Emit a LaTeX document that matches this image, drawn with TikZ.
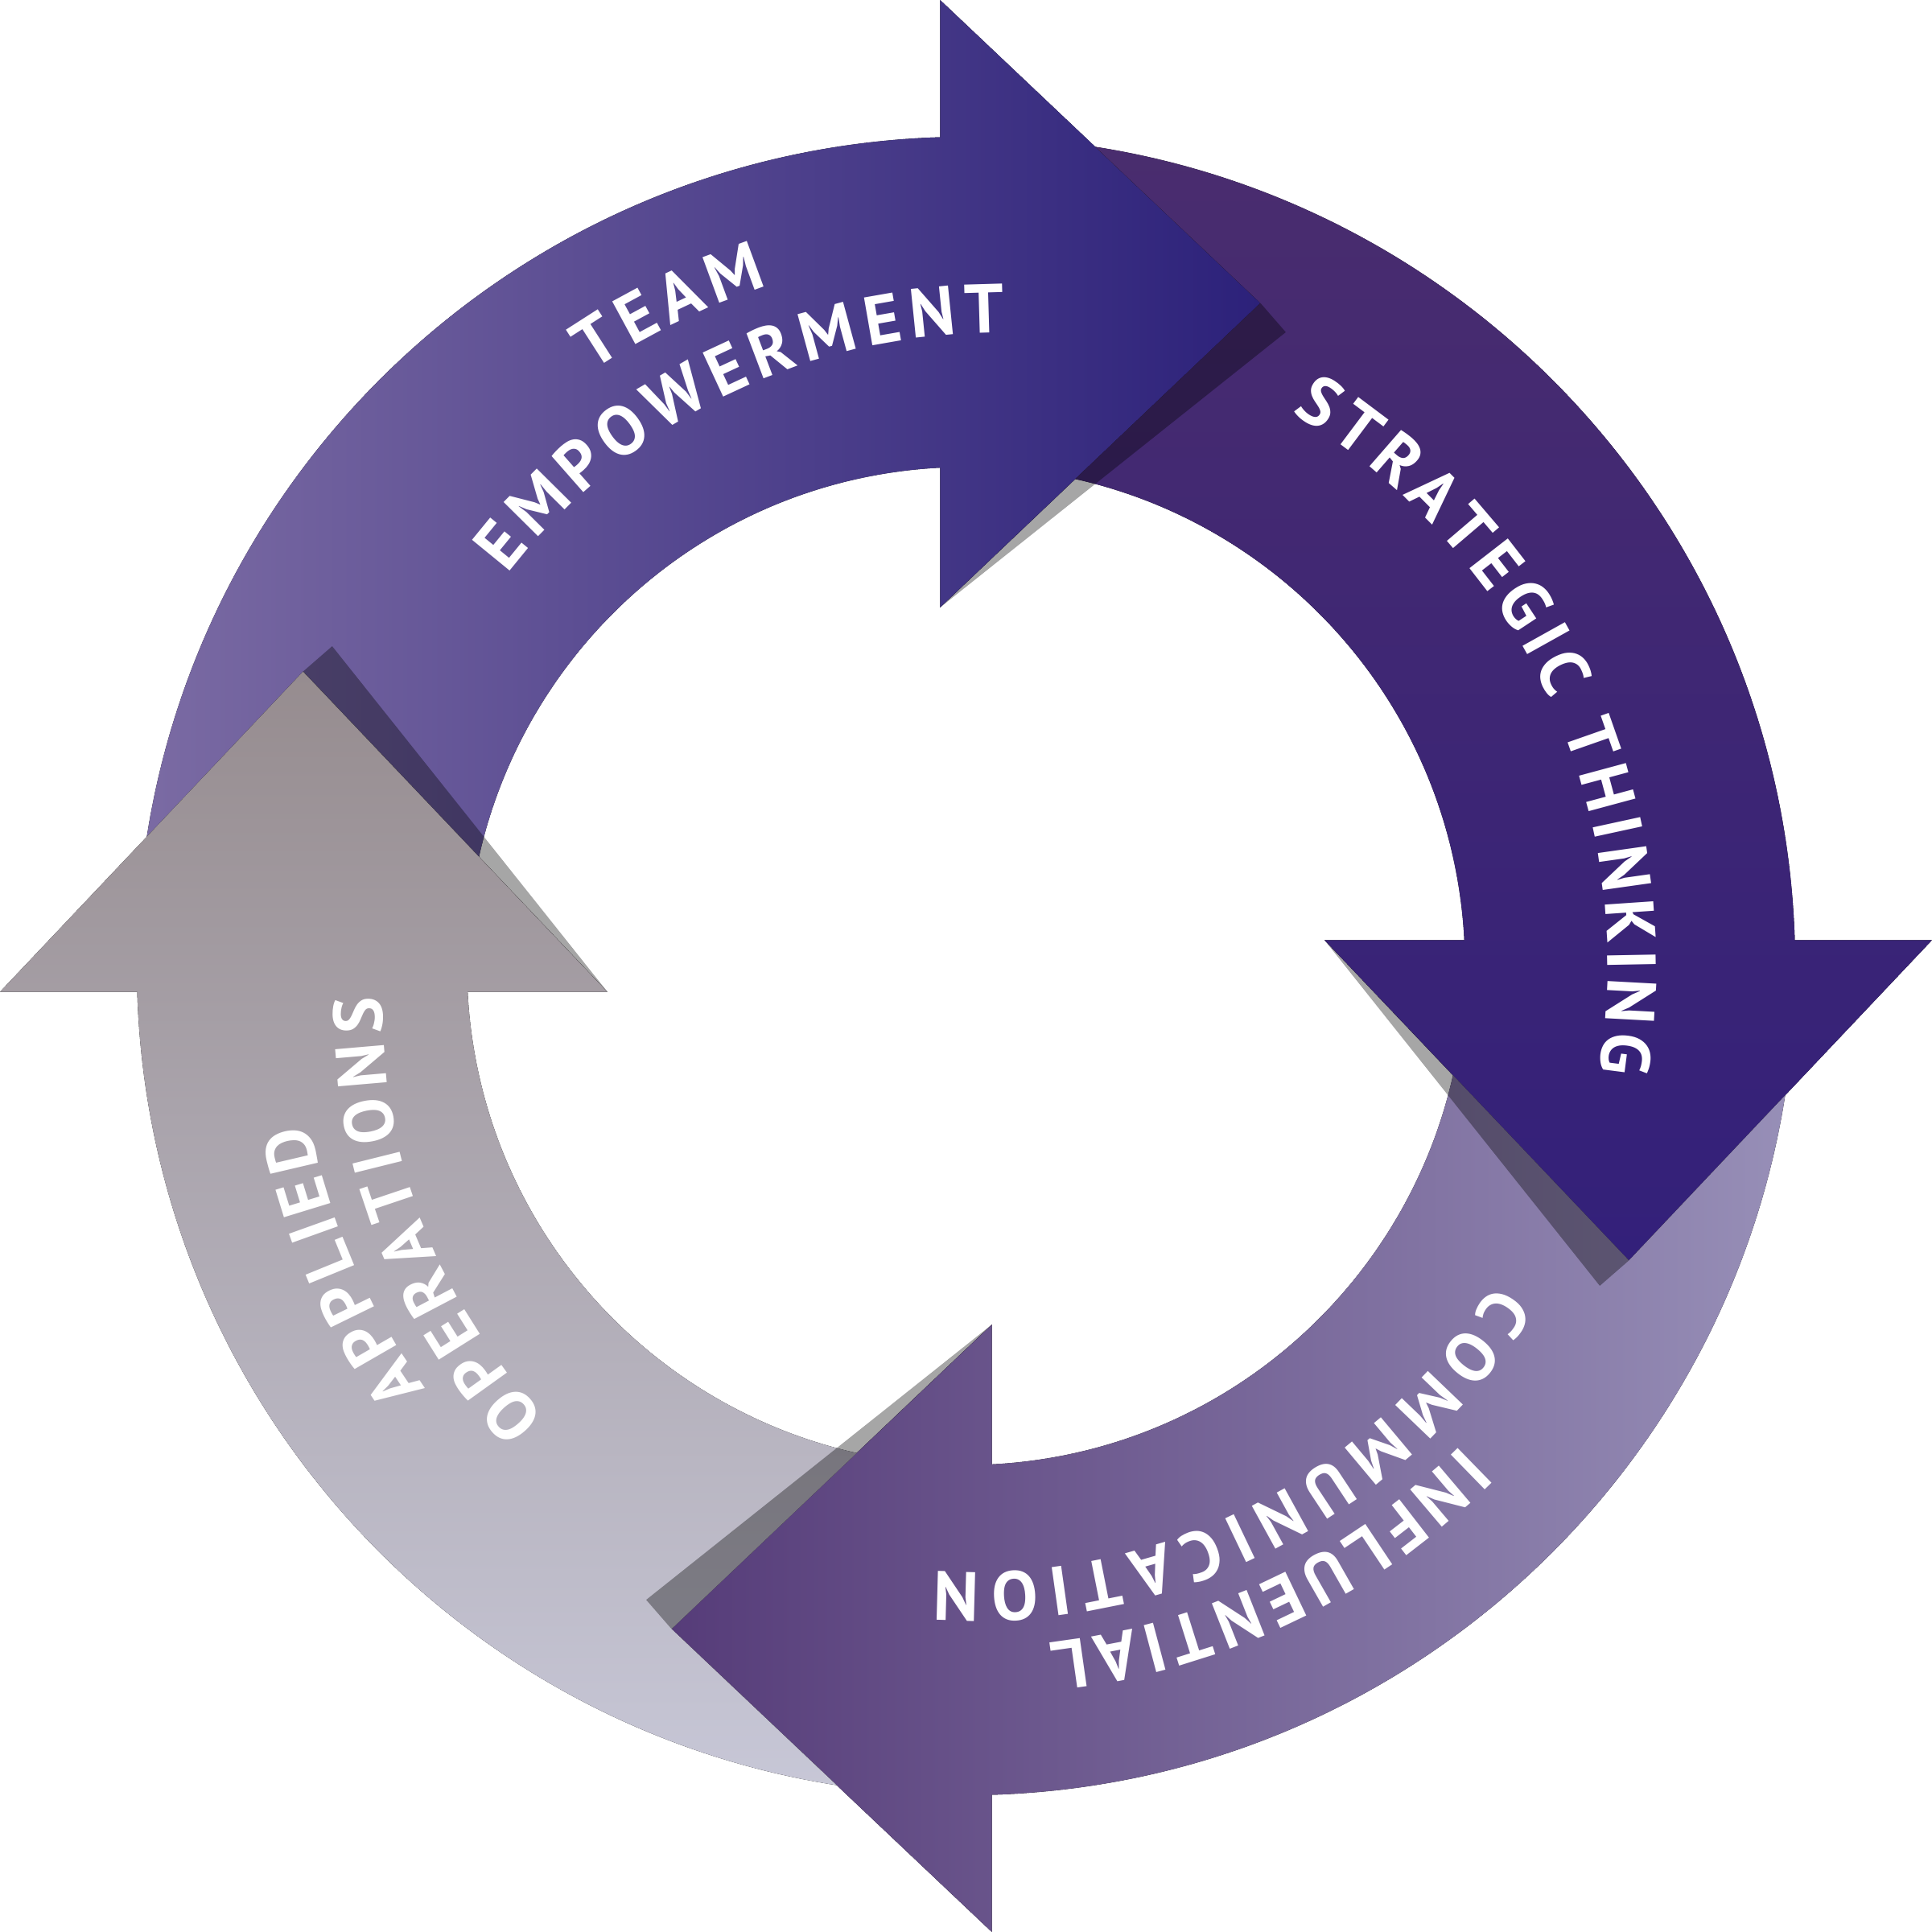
\documentclass[tikz,border=0pt]{standalone}
\usepackage{fontspec}
\setmainfont{PT Sans}
\usetikzlibrary{calc,decorations.text}
\definecolor{teamL}{RGB}{124,108,164}
\definecolor{teamR}{RGB}{44,33,122}
\definecolor{stratT}{RGB}{74,45,110}
\definecolor{stratB}{RGB}{51,32,122}
\definecolor{commR}{RGB}{152,144,184}
\definecolor{commL}{RGB}{86,60,121}
\definecolor{operB}{RGB}{200,200,216}
\definecolor{operT}{RGB}{150,140,143}

% outlines of the four arrows (body + head)
\def\teampath{(182.122:405) -- (181.277:673) arc[start angle=181.277,end angle=91.788,radius=673] -- (-21,784) -- (239,538) -- (-21,291) -- (92.972:405) arc[start angle=92.972,end angle=182.122,radius=405] -- cycle}
\def\stratpath{(92.122:405) -- (91.277:673) arc[start angle=91.277,end angle=1.788,radius=673] -- (784,21) -- (538,-239) -- (291,21) -- (2.972:405) arc[start angle=2.972,end angle=92.122,radius=405] -- cycle}
\def\commpath{(2.122:405) -- (1.277:673) arc[start angle=1.277,end angle=-88.212,radius=673] -- (21,-784) -- (-239,-538) -- (21,-291) -- (-87.028:405) arc[start angle=-87.028,end angle=2.122,radius=405] -- cycle}
\def\operpath{(-87.878:405) -- (-88.723:673) arc[start angle=-88.723,end angle=-178.212,radius=673] -- (-784,-21) -- (-538,239) -- (-291,-21) -- (-177.028:405) arc[start angle=-177.028,end angle=-87.878,radius=405] -- cycle}

\begin{document}
\begin{tikzpicture}[
  x = 0.01cm,
  y = 0.01cm,
  team/.style = {left color = teamL, right color = teamR},
  strat/.style = {top color = stratT, bottom color = stratB},
  comm/.style = {right color = commR, left color = commL},
  oper/.style = {bottom color = operB, top color = operT},
  shadow/.style = {fill = black, fill opacity = 0.35},
  ringtext/.style = {
    decorate,
    decoration = {
      text along path,
      text align = {fit to path},
      text = {|\color{white}|#1},
    },
  },
]

  \useasboundingbox (-784,-784) rectangle (784,784);

  % heads: base ends and tips
  \coordinate (teamtop) at (-21,784);
  \coordinate (teamin) at (-21,291);
  \coordinate (teamtip) at (239,538);
  \coordinate (stratout) at (784,21);
  \coordinate (stratin) at (291,21);
  \coordinate (strattip) at (538,-239);
  \coordinate (commout) at (21,-784);
  \coordinate (commin) at (21,-291);
  \coordinate (commtip) at (-239,-538);
  \coordinate (operout) at (-784,-21);
  \coordinate (operin) at (-291,-21);
  \coordinate (opertip) at (-538,239);

  % each arrow goes under the head of the one before it
  \fill[team] \teampath;
  \begin{scope}[even odd rule]
    \clip (-784,-784) rectangle (784,784) (teamtop) -- (teamtip) -- (teamin) -- cycle;
    \fill[strat] \stratpath;
  \end{scope}
  \begin{scope}[even odd rule]
    \clip (-784,-784) rectangle (784,784) (stratout) -- (strattip) -- (stratin) -- cycle;
    \fill[comm] \commpath;
  \end{scope}
  \begin{scope}[even odd rule]
    \clip (-784,-784) rectangle (784,784) (commout) -- (commtip) -- (commin) -- cycle;
    \fill[oper] \operpath;
  \end{scope}

  % shadows beside the heads
  \fill[shadow] (teamin) -- ($(teamin)!1!-5:(teamtip)$) -- (teamtip) -- cycle;
  \fill[shadow] (stratin) -- ($(stratin)!1!-5:(strattip)$) -- (strattip) -- cycle;
  \fill[shadow] (commin) -- ($(commin)!1!-5:(commtip)$) -- (commtip) -- cycle;
  \fill[shadow] (operin) -- ($(operin)!1!-5:(opertip)$) -- (opertip) -- cycle;

  % labels
  \begin{scope}
    \fontsize{16}{19}\selectfont\bfseries
    \path[ringtext=TEAM] plot[domain=122.2:106.2,samples=20] (\x:{570+5*(122.2-\x)/16});
    \path[ringtext=EMPOWERMENT] plot[domain=139.5:86.5,samples=40] (\x:{489+26*(139.5-\x)/53});
    \path[ringtext=STRATEGIC THINKING] plot[domain=59.5:-9.5,samples=50] (\x:521);
    \path[ringtext=INFLUENTIAL] plot[domain=-44:-83,samples=30] (\x:{559-6*(-44-\x)/39});
    \path[ringtext=COMMUNICATION] plot[domain=-31:-93,samples=40] (\x:{500-8*(-31-\x)/62});
    \path[ringtext=APPLIED] plot[domain=218:193.5,samples=20] (\x:{557-9*(218-\x)/24.5});
    \path[ringtext=OPERATIONS] plot[domain=227:183,samples=40] (\x:{501-27*(227-\x)/44});
  \end{scope}

\end{tikzpicture}
\end{document}
